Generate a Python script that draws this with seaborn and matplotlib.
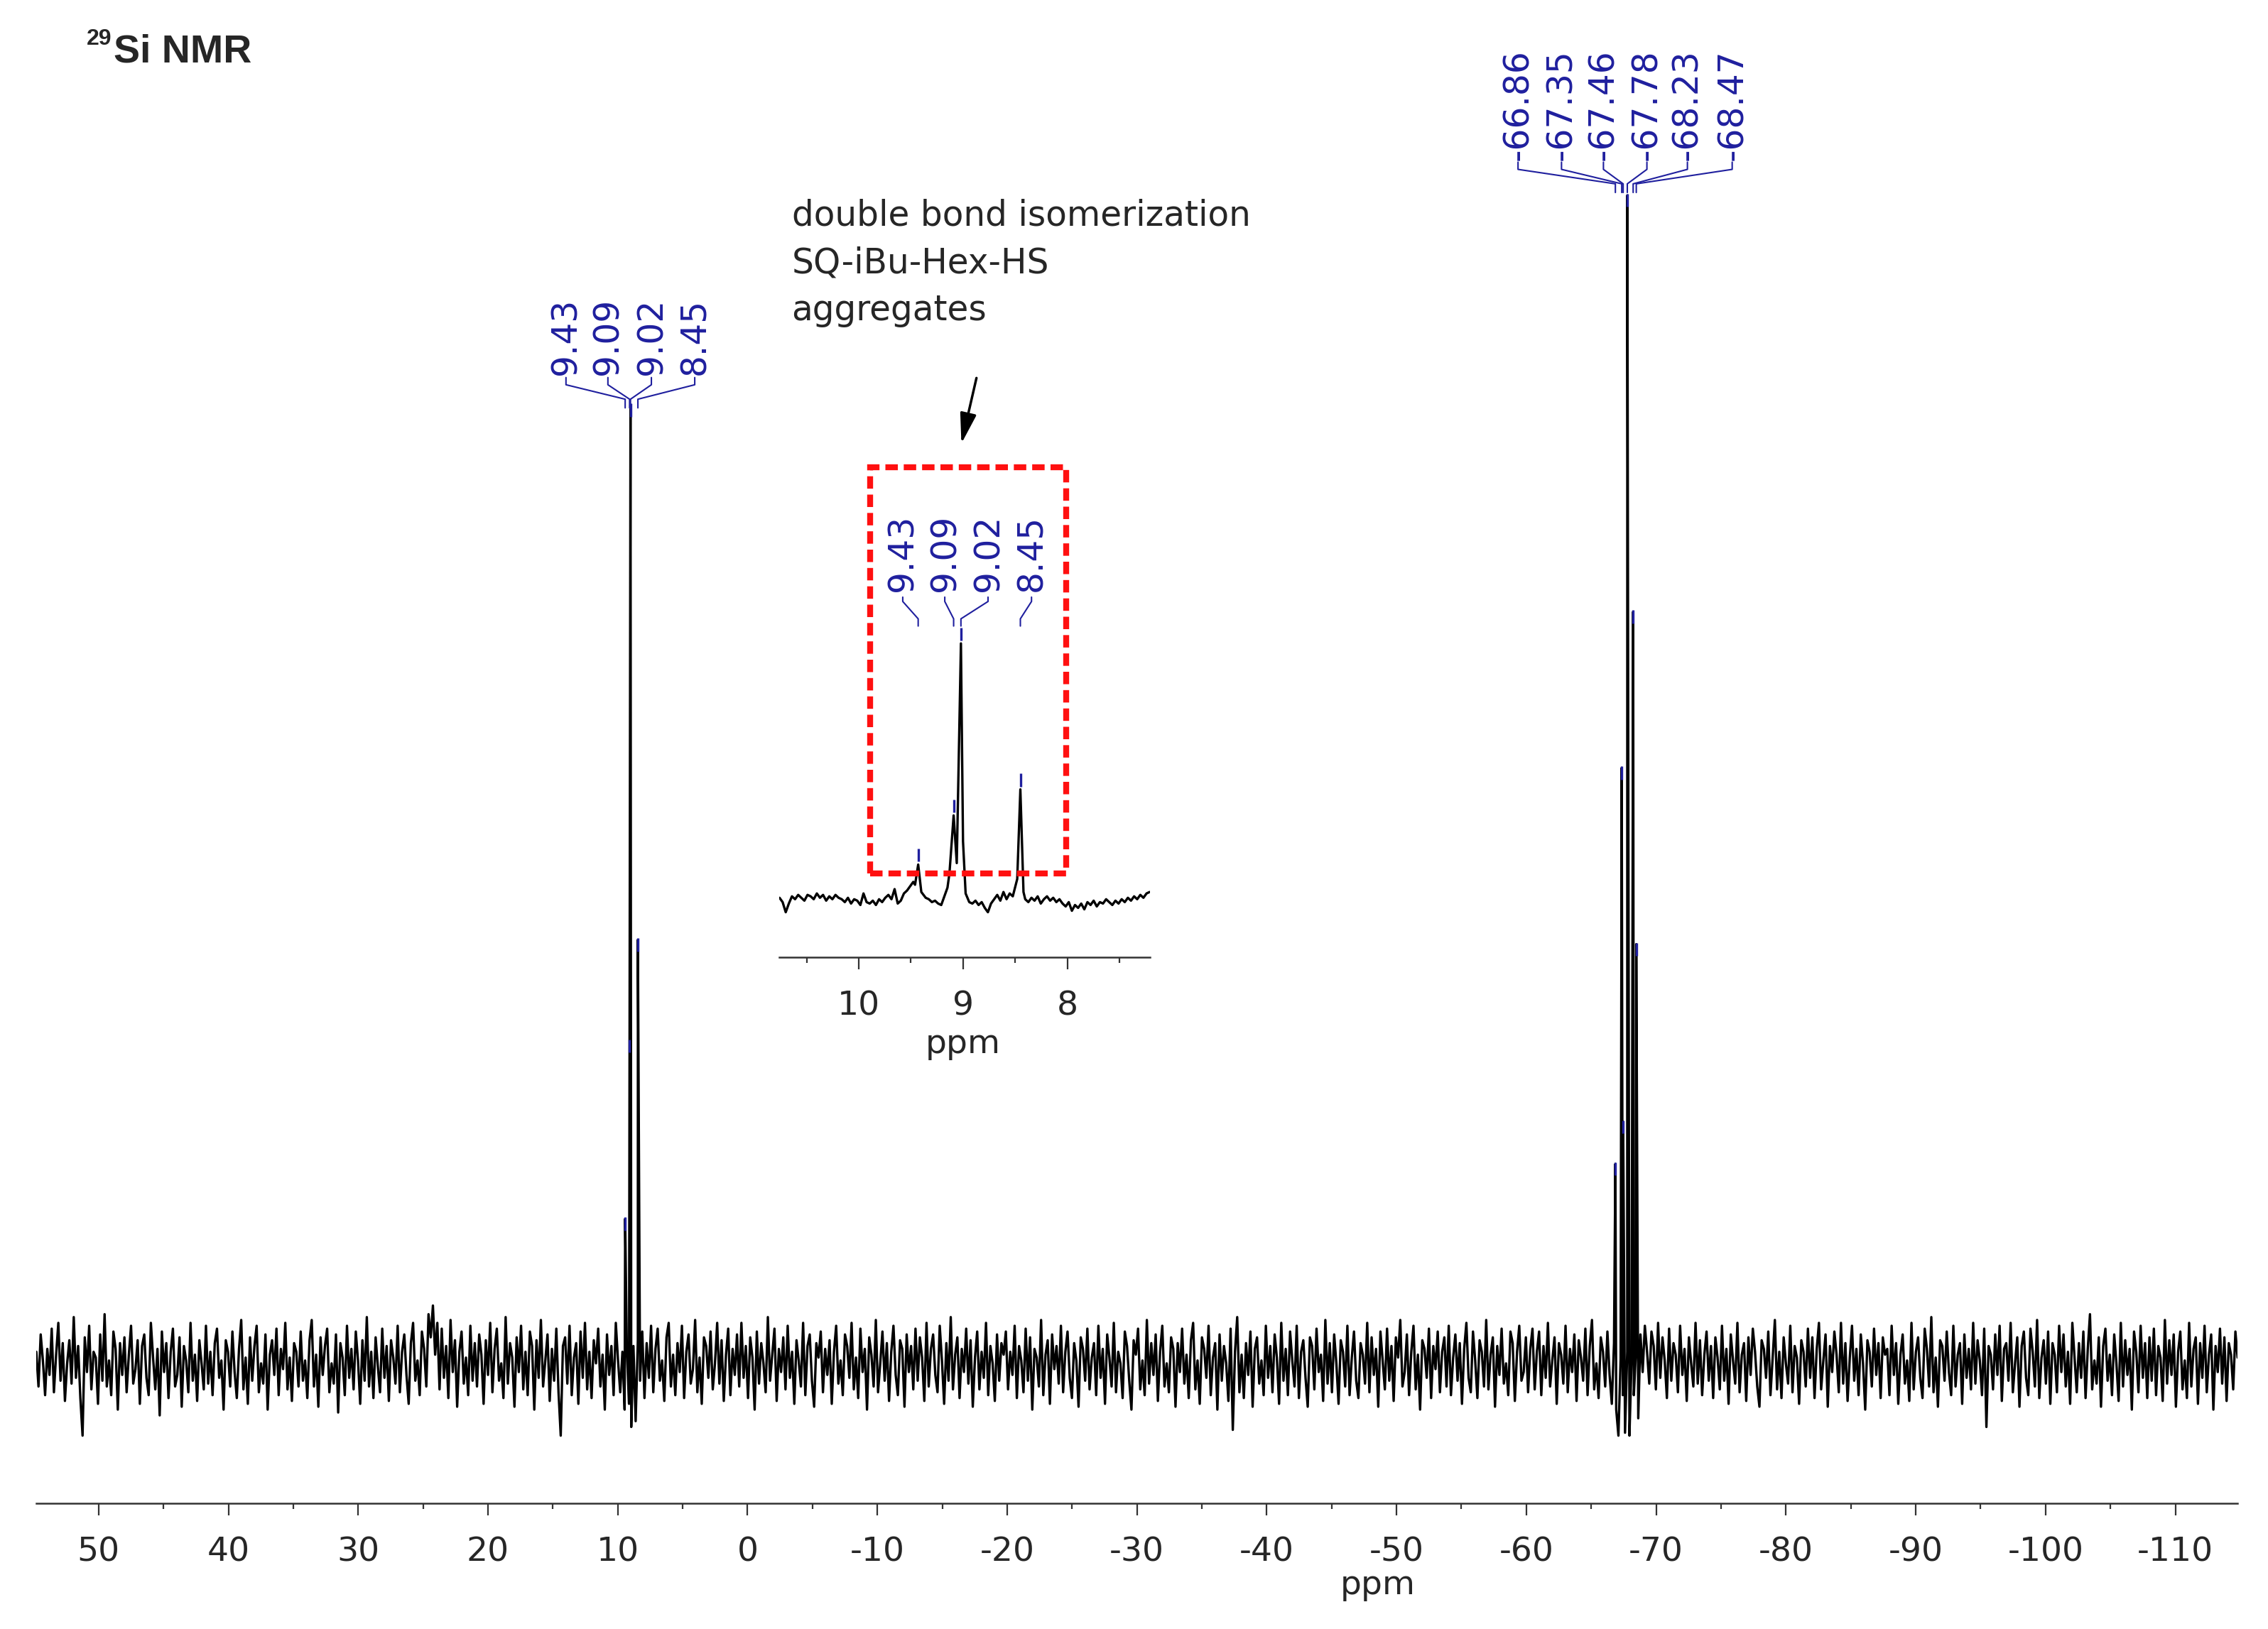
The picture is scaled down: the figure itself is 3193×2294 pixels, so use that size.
import numpy as np
import pandas as pd
import matplotlib
matplotlib.use("Agg")
import matplotlib.pyplot as plt
from matplotlib.ticker import MultipleLocator
from matplotlib.patches import Rectangle
import seaborn as sns

sns.set_style("white")
plt.rcParams['font.family'] = ['DejaVu Sans']
plt.rcParams['axes.unicode_minus'] = False

# ---------------- data ----------------
# main spectrum window (ppm)
ppm_left, ppm_right = 54.8, -114.8

# baseline noise read across the spectrum, left to right (height above baseline)
noise = [
    10, -14, 22, 4, -20, 12, -6, 26, -18, 8, 30, -10, 16, -24, 2, 18, -12, 34, -8, 14, -22, -48, 20, -4, 28, -16, 10, 6, -26, 22, -10, 36, -14, 4, -20, 24, 12, -30, 16, -6,
    20, -18, 8, 28, -12, -2, 18, -26, 14, 22, -8, -20, 30, 6, -16, 12, -34, 24, -4, 16, -22, 10, 26, -14, -6, 20, -28, 14, 4, -18, 30, -10, 8, -24, 18, 2, -16, 28, -12, 10,
    -20, 16, 26, -8, 4, -30, 18, 10, -14, 24, -4, -22, 12, 32, -16, 6, -26, 20, -10, 14, 28, -18, 2, -12, 22, -30, 8, 18, -6, 26, -20, 12, -2, 30, -16, 6, -24, 16, 10, -14,
    24, -10, 4, -22, 18, 32, -14, 8, -28, 20, -6, 14, 26, -18, 2, -12, 22, -32, 16, 6, -20, 28, -8, 12, -16, 24, 4, -26, 18, -10, 34, -14, 10, -22, 20, 0, -18, 26, -8, 14,
    -24, 18, 6, -12, 28, -18, 10, 22, -6, -26, 16, 30, -10, 4, -20, 24, 12, -14, 36, 20, 42, 8, 30, -16, 26, -8, 14, -22, 32, -4, 18, -28, 10, 24, -12, 6, -20, 28, -10, 16,
    -14, 22, 8, -26, 18, -6, 30, -18, 12, 26, -10, 2, -22, 34, -12, 16, 6, -28, 20, -4, 28, -16, 10, -20, 24, 14, -30, 18, -8, 32, -14, 4, 22, -24, 12, -10, 26, -18, -48, 14,
    20, -12, 28, -20, 6, 16, -26, 24, -8, 30, -16, 10, -22, 18, 2, 26, -14, 8, -30, 22, -6, 14, -20, 30, 4, -18, 10, -30, 12, -26, -42, 14, -38, 18, -10, 24, -22, 16, -8, 28,
    -18, 12, 26, -10, 4, -24, 20, 30, -14, 8, -20, 16, -4, 28, -22, 10, 22, -12, -2, 32, -18, 6, -26, 20, 14, -8, 24, -16, 2, 30, -12, 18, -24, 8, 26, -20, 12, -6, 22, -14,
    30, -8, 14, -22, 20, 6, -30, 24, -12, 16, 2, -18, 34, -10, 8, 26, -24, 12, -4, 20, -16, 28, -8, 10, -26, 18, 4, -14, 30, -20, 14, 22, -10, -28, 16, 6, 24, -18, 12, -6,
    18, -26, 10, 28, -12, 4, -20, 22, 14, -8, 30, -16, 6, -22, 26, -4, 12, -30, 20, 8, -14, 32, -18, 2, 24, -10, 16, -24, 10, 28, -6, -20, 18, 12, -28, 22, -4, 14, -16, 26,
    -10, 20, 6, -24, 30, -14, 12, 22, -6, -18, 28, 4, -26, 16, -10, 34, -16, 8, 20, -22, 12, -4, 26, -12, 18, -28, 6, 24, -16, 10, -8, 30, -20, 14, 2, -24, 22, -10, 16, 8,
    24, -16, 10, -6, 28, -22, 14, 4, -18, 26, -10, 20, -30, 12, 6, -14, 32, -20, 8, 18, -26, 22, -2, 14, -12, 28, -18, 10, 24, -8, -22, 16, 4, -28, 20, 12, -10, 26, -16, 6,
    16, -20, 28, -8, 12, -26, 22, 6, -14, 30, -18, 10, 2, -22, 24, 14, -10, -30, 18, 8, 26, -16, 4, -20, 32, -12, 16, -6, 22, -24, 10, 28, -14, 2, -18, 20, 12, -28, 16, -4,
    26, -12, 8, -22, 18, 30, -16, 4, -26, 20, 12, -8, 28, -20, 6, 16, -30, 22, -10, 14, 2, -24, 26, -44, 10, 34, -18, 8, -22, 16, -6, 24, -28, 12, 20, -12, 4, -20, 28, -8,
    14, -18, 22, 6, -26, 30, -10, 12, -20, 24, 4, -14, 28, -22, 10, 18, -8, -28, 20, 14, -16, 26, -4, 8, -24, 32, -12, 16, -18, 22, 2, -26, 18, 10, -14, 28, -20, 6, 24, -10,
    -22, 16, 8, -12, 30, -18, 20, -6, 12, -28, 24, 4, -16, 26, -10, 14, -24, 20, 6, 32, -14, -4, 22, -20, 10, 28, -16, 8, -30, 18, 12, -8, 26, -22, 14, -2, 24, -18, 10, 20,
    -14, 28, -20, 6, 22, -10, 16, -26, 12, 30, -8, -18, 24, 4, -22, 18, 10, -14, 32, -16, 8, 20, -28, 14, -6, 26, -12, 2, -20, 24, 16, -24, 10, 28, -10, -4, 20, -18, 12, 26,
    -16, 10, 24, -20, 14, -8, 30, -14, 4, 20, -26, 16, 8, -12, 28, -18, 12, -4, 22, -24, 18, 6, -10, 26, -20, 14, 32, -16, 2, -22, 20, 10, -14, 24, -6, -26, 16, -30, -48, 5,
    -20, -46, 10, -48, 6, -20, 12, -36, 22, -4, 28, 10, -12, 24, 14, -16, 30, -8, 20, 4, -22, 26, -10, 16, 8, -18, 28, -6, 12, -24, 20, 2, -14, 30, -12, 18, -20, 8, 24, -10,
    14, -22, 20, 6, -16, 28, -10, 12, -26, 22, 4, -12, 30, -18, 8, 16, -24, 20, -6, 26, 10, -14, -28, 18, 12, -8, 24, -20, 6, 32, -16, 10, -22, 20, 2, -12, 28, -18, 14, 6,
    -26, 18, 10, -14, 26, -8, 20, -22, 12, 30, -16, 4, 22, -28, 14, -4, 24, 8, -18, 30, -12, 16, -24, 6, 28, -10, 12, -20, 22, 2, -30, 18, 10, -14, 26, -6, 16, -22, 20, 8,
    12, -20, 28, -6, 16, -26, 8, 22, -12, 4, -24, 30, -16, 10, 20, -8, -22, 26, 12, -14, 34, -18, 6, -28, 18, 14, -10, 24, -4, -20, 28, -14, 8, 16, -26, 22, -8, 12, -16, 30,
    -12, 18, 4, -20, 26, -42, 14, 8, -16, 22, -6, 28, -24, 12, 16, -10, 30, -18, 2, 20, -28, 14, 24, -8, -20, 26, 10, -14, 32, -22, 6, 18, -12, 24, -26, 16, 8, -18, 28, -4,
    22, -14, 10, -26, 30, 6, -18, 16, -8, 24, -22, 12, 36, -16, 4, -12, 20, -28, 14, 26, -10, 8, -20, 22, 2, -24, 30, -14, 18, -6, 12, -30, 24, 10, -18, 28, -8, 16, -22, 20,
    -10, 26, -20, 14, 6, -24, 32, -12, 18, -6, 22, -28, 10, 24, -16, 4, -22, 30, -14, 12, 20, -26, 16, -8, 28, -18, 8, 22, -30, 14, -4, 26, -12, 20, -24, 16, 8, -16, 24, 6,
]

# peaks of the main spectrum
peak_ppm = [9.43, 9.09, 9.02, 8.45, -66.86, -67.35, -67.46, -67.78, -68.23, -68.47]
peak_height = [102, 225, 665, 295, 140, 414, 169, 810, 522, 292]

# multiplet labels
left_labels = ["9.43", "9.09", "9.02", "8.45"]
left_label_x = [13.99, 10.76, 7.41, 4.07]
right_labels = ["-66.86", "-67.35", "-67.46", "-67.78", "-68.23", "-68.47"]
right_label_x = [-59.36, -62.71, -65.94, -69.29, -72.41, -75.86]

# inset (expanded 8-10 ppm region)
inset_left, inset_right = 10.76, 7.21
inset_noise = [
    1, -2, -9, -3, 2, 0, 3, 1, -1, 3,
    2, 0, 4, 1, 3, -1, 2, 0, 3, 1,
    0, -2, 1, -3, 0, -1, -4, 4, -2, -3,
    -1, -4, 0, -2, 1, 3, 0, 7, -3, -1,
    4, 6, 9, 12, 15, 5, 3, 1, 0, -2,
    -1, -3, -4, 2, 8, 14, 40, 25, 120, 40,
    2, -2, -3, -1, -4, -2, -6, -9, -3, 0,
    3, -1, 5, 0, 4, 2, 6, 10, 8, 0,
    -2, 1, -1, 2, -3, 0, 2, -1, 1, -2,
    0, -3, -5, -2, -8, -4, -6, -3, -7, -2,
    -4, -1, -5, -2, -3, 0, -2, -4, -1, -3,
    0, -2, 1, -1, 2, 0, 3, 1, 4, 5,
]
inset_peak_ppm = [9.46, 9.43, 9.40, 9.13, 9.09, 9.06, 9.035, 9.02, 9.00, 8.975, 8.48, 8.45, 8.42]
inset_peak_val = [10, 24, 5, 18, 58, 25, 120, 177, 40, 4, 14, 76, 5]
inset_labels = ["9.43", "9.09", "9.02", "8.45"]
inset_label_ppm = [9.43, 9.09, 9.02, 8.45]
inset_label_h = [24, 58, 177, 76]
inset_label_x = [9.578, 9.175, 8.760, 8.343]

blue = "#1f1f9e"
fs = 34
lab_fs = 35

# ---------------- figure ----------------
fig = plt.figure(figsize=(31.93, 22.94), dpi=100)
ax = fig.add_axes([0.016, 0.0770, 0.9706, 0.9051])

grid = np.linspace(ppm_left, ppm_right, len(noise))
x = np.concatenate([grid, peak_ppm])
y = np.concatenate([noise, peak_height]).astype(float)
order = np.argsort(-x, kind="stable")
spec = pd.DataFrame({"ppm": x[order], "intensity": y[order]})
sns.lineplot(data=spec, x="ppm", y="intensity", ax=ax, color="black", lw=2.4,
             sort=False, estimator=None)

# peak markers
for p, h in zip(peak_ppm, peak_height):
    ax.plot([p, p], [h - 8, h + 1], color=blue, lw=2.4, solid_capstyle="butt", zorder=3)

# multiplet labels with connectors
for labs, lxs, peaks, ybot, ytxt in [(left_labels, left_label_x, peak_ppm[:4], 689, 686),
                                     (right_labels, right_label_x, peak_ppm[4:], 838, 834)]:
    for lab, lx, p in zip(labs, lxs, peaks):
        ax.text(lx, ytxt, lab, rotation=90, ha="center", va="bottom", color=blue, fontsize=lab_fs)
        ax.plot([lx, lx, p, p], [ybot - 5, ybot - 10, ybot - 20, ybot - 26], color=blue, lw=1.5)

ax.set_xlim(ppm_left, ppm_right)
ax.set_ylim(-95, 925)
ax.xaxis.set_major_locator(MultipleLocator(10))
ax.xaxis.set_minor_locator(MultipleLocator(5))
ax.set_yticks([])
ax.set_xlabel("")
ax.set_ylabel("")
for s in ["left", "right", "top"]:
    ax.spines[s].set_visible(False)
ax.spines["bottom"].set_color("#333333")
ax.spines["bottom"].set_linewidth(1.8)
ax.tick_params(axis="x", which="major", direction="out", length=12, width=1.6,
               color="#333333", labelsize=fs, pad=21, bottom=True)
ax.tick_params(axis="x", which="minor", direction="out", length=6, width=1.6,
               color="#333333", bottom=True)
fig.text(0.6076, 0.0266, "ppm", ha="center", va="center", fontsize=fs)

# annotation and arrow
ax.text(-3.4, 808, "double bond isomerization\nSQ-iBu-Hex-HS\naggregates",
        ha="left", va="top", fontsize=35, linespacing=1.5)
ax.annotate("", xy=(-16.44, 637), xytext=(-17.67, 685),
            arrowprops=dict(arrowstyle="-|>,head_length=1.3,head_width=0.35",
                            color="black", lw=2.5, mutation_scale=20))

# title
fig.text(0.0382, 0.976, "29", fontsize=23, fontweight="bold", family="Liberation Sans", va="center")
fig.text(0.0500, 0.968, "Si NMR", fontsize=40, fontweight="bold", family="Liberation Sans", va="center")

# ---------------- inset ----------------
axi = fig.add_axes([0.3437, 0.4125, 0.1632, 0.3212], facecolor="none")
igrid = np.linspace(inset_left, inset_right, len(inset_noise))
near = np.min(np.abs(igrid[:, None] - np.array(inset_peak_ppm)[None, :]), axis=1) < 0.015
ix = np.concatenate([igrid[~near], inset_peak_ppm])
iy = np.concatenate([np.array(inset_noise, float)[~near], inset_peak_val])
iorder = np.argsort(-ix, kind="stable")
ispec = pd.DataFrame({"ppm": ix[iorder], "intensity": iy[iorder]})
sns.lineplot(data=ispec, x="ppm", y="intensity", ax=axi, color="black", lw=2.4,
             sort=False, estimator=None)

for p, h in zip(inset_label_ppm, inset_label_h):
    axi.plot([p, p], [h + 2, h + 11], color=blue, lw=2.4, solid_capstyle="butt", zorder=3)
for lab, lx, p in zip(inset_labels, inset_label_x, inset_label_ppm):
    axi.text(lx, 213, lab, rotation=90, ha="center", va="bottom", color=blue, fontsize=lab_fs)
    axi.plot([lx, lx, p, p], [209, 206, 194, 189], color=blue, lw=1.5)

axi.add_patch(Rectangle((9.89, 18), 8.01 - 9.89, 299 - 18, fill=False, edgecolor="#ff1010",
                        lw=6, linestyle=(0, (2.1, 1.0)), zorder=4))

axi.set_xlim(inset_left, inset_right)
axi.set_ylim(-40, 322)
axi.xaxis.set_major_locator(MultipleLocator(1))
axi.xaxis.set_minor_locator(MultipleLocator(0.5))
axi.set_yticks([])
axi.set_xlabel("")
axi.set_ylabel("")
for s in ["left", "right", "top"]:
    axi.spines[s].set_visible(False)
axi.spines["bottom"].set_color("#333333")
axi.spines["bottom"].set_linewidth(1.8)
axi.tick_params(axis="x", which="major", direction="out", length=12, width=1.6,
                color="#333333", labelsize=fs, pad=22, bottom=True)
axi.tick_params(axis="x", which="minor", direction="out", length=6, width=1.6,
                color="#333333", bottom=True)
fig.text(0.4247, 0.359, "ppm", ha="center", va="center", fontsize=fs)

fig.savefig("out.png", dpi=100)
